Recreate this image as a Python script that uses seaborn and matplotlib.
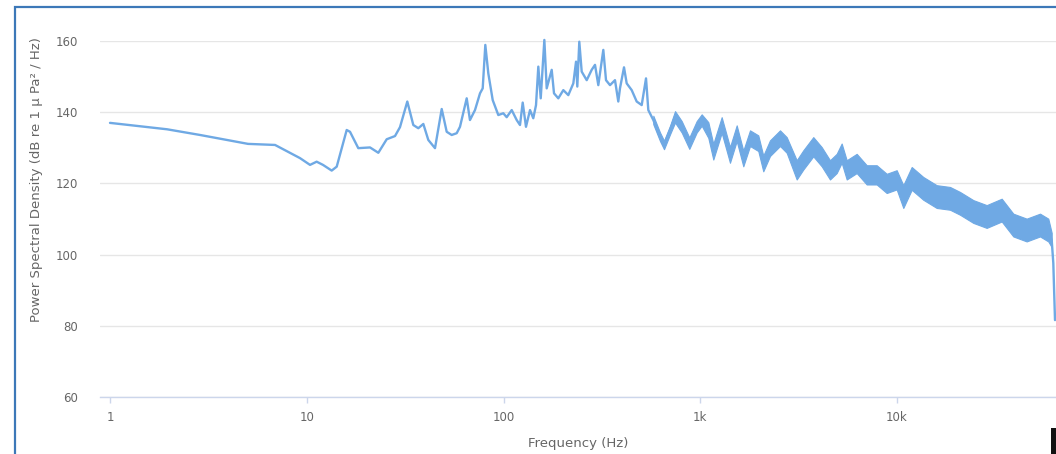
import matplotlib
matplotlib.use("Agg")
import matplotlib.pyplot as plt
import matplotlib.ticker as mticker
from matplotlib.patches import Rectangle
import pandas as pd
import seaborn as sns

# Power spectral density of the recording (frequency in Hz, level in dB re 1 uPa^2/Hz)
freq_hz = [
    1.0, 1.95, 2.87, 5.03, 6.9, 9.24, 10.39, 11.23, 12.09, 13.39, 14.2, 15.96,
    16.59, 18.28, 20.97, 23.11, 25.49, 28.09, 29.78, 32.44, 34.8, 36.9, 39.13,
    41.48, 44.86, 48.52, 51.44, 54.54, 57.82, 60.1, 65.01, 67.54, 71.63, 75.96,
    78.4, 80.83, 83.72, 88.14, 94.1, 99.77, 103.8, 110.1, 116.7, 121.3, 125.2,
    130.1, 136.4, 141.7, 146.3, 150.3, 154.6, 161.3, 165.8, 175.8, 180.6, 189.9,
    201.4, 213.5, 226.4, 233.7, 237.2, 242.8, 249.7, 264.8, 280.7, 291.8, 303.3,
    321.6, 331.9, 347.8, 368.7, 383.2, 390.9, 409.7, 422.8, 448.3, 475.3, 504.0,
    530.1, 544.5, 577.4, 624.5, 654.4, 702.1, 744.4, 804.9, 879.8, 959.2, 1017,
    1099, 1165, 1285, 1416, 1532, 1655, 1790, 1972, 2091, 2262, 2543, 2750, 3092,
    3340, 3754, 4142, 4564, 4936, 5234, 5551, 6239, 7015, 7884, 8864, 9963,
    10765, 11877, 13604, 15910, 18596, 20902, 24431, 28565, 34055, 38996, 45609,
    53316, 58736, 61131, 62294, 63540,
]
psd_db = [
    137.0, 135.2, 133.6, 131.1, 130.8, 127.1, 125.2, 126.1, 125.2, 123.6, 124.7,
    135.0, 134.5, 129.9, 130.1, 128.6, 132.4, 133.3, 135.8, 143.0, 136.4, 135.5,
    136.7, 132.2, 129.9, 140.9, 134.5, 133.6, 134.1, 135.9, 143.9, 137.8, 140.6,
    145.3, 146.7, 158.9, 150.9, 143.4, 139.2, 139.7, 138.6, 140.6, 137.8, 136.4,
    142.7, 135.9, 140.6, 138.3, 142.0, 152.8, 143.9, 160.3, 146.7, 151.9, 145.3,
    143.9, 146.2, 144.8, 148.1, 154.2, 147.2, 159.8, 151.4, 149.0, 151.9, 153.3,
    147.6, 157.5, 149.0, 147.6, 149.0, 143.0, 146.7, 152.6, 148.1, 146.2, 143.0,
    142.0, 149.5, 140.6, 137.8, 133.1, 130.8, 135.0, 138.7, 135.9, 131.3, 135.9,
    137.8, 135.0, 128.9, 136.4, 128.0, 134.1, 127.0, 132.7, 131.3, 125.6, 129.9,
    132.7, 130.8, 123.8, 126.6, 130.3, 127.5, 123.8, 125.6, 128.5, 123.8, 125.6,
    122.4, 122.4, 120.0, 121.0, 116.3, 121.4, 118.6, 116.3, 115.8, 114.4, 112.1,
    110.7, 112.5, 108.3, 106.9, 108.3, 106.9, 104.1, 97.6, 81.6,
]

# Spread of the fine-grained fluctuation above ~500 Hz (lower / upper envelope)
band_hz = [
    577.4, 624.5, 654.4, 702.1, 744.4, 804.9, 879.8, 959.2, 1017, 1099, 1165,
    1285, 1416, 1532, 1655, 1790, 1972, 2091, 2262, 2543, 2750, 3092, 3340,
    3754, 4142, 4564, 4936, 5234, 5551, 6239, 7015, 7884, 8864, 9963, 10765,
    11877, 13604, 15910, 18596, 20902, 24431, 28565, 34055, 38996, 45609, 53316,
    58736, 61131,
]
band_lo_db = [
    136.6, 131.9, 129.6, 133.8, 137.1, 134.3, 129.7, 134.3, 136.2, 132.8, 126.7,
    134.2, 125.8, 131.9, 124.8, 130.5, 129.1, 123.4, 127.7, 130.5, 128.6, 121.1,
    123.9, 127.6, 124.8, 121.1, 122.9, 125.8, 121.1, 122.9, 119.7, 119.7, 117.3,
    118.3, 113.1, 118.2, 115.4, 113.1, 112.6, 111.2, 108.9, 107.5, 109.3, 105.1,
    103.7, 105.1, 103.7, 102.1,
]
band_hi_db = [
    139.0, 134.3, 132.0, 136.2, 140.3, 137.5, 132.9, 137.5, 139.4, 137.2, 131.1,
    138.6, 130.2, 136.3, 129.2, 134.9, 133.5, 127.8, 132.1, 134.9, 133.0, 126.5,
    129.3, 133.0, 130.2, 126.5, 128.3, 131.2, 126.5, 128.3, 125.1, 125.1, 122.7,
    123.7, 119.5, 124.6, 121.8, 119.5, 119.0, 117.6, 115.3, 113.9, 115.7, 111.5,
    110.1, 111.5, 110.1, 106.1,
]

x_ticks = [1, 10, 100, 1000, 10000]
x_tick_labels = ["1", "10", "100", "1k", "10k"]
y_ticks = [60, 80, 100, 120, 140, 160]

LINE = "#6fa9e4"
GRID = "#e6e6e6"
AXIS = "#ccd6eb"
TEXT = "#666666"

sns.set_theme(style="white")
plt.rcParams["font.family"] = ["DejaVu Sans"]

W, H = 1056, 454
fig = plt.figure(figsize=(W / 100, H / 100), dpi=100)
fig.patch.set_facecolor("white")

ax_left, ax_right, ax_top, ax_bottom = 100, 1056, 41, 397
ax = fig.add_axes([ax_left / W, 1 - ax_bottom / H,
                   (ax_right - ax_left) / W, (ax_bottom - ax_top) / H])
ax.set_facecolor("white")

df = pd.DataFrame({"freq": freq_hz, "psd": psd_db})

ax.fill_between(band_hz, band_lo_db, band_hi_db, color=LINE, lw=0.8,
                edgecolor=LINE, zorder=2, clip_on=False)
sns.lineplot(data=df, x="freq", y="psd", ax=ax, color=LINE, lw=1.7,
             estimator=None, sort=False, zorder=3, clip_on=False)

ax.set_xscale("log")
ax.set_xlim(10 ** ((ax_left - 110) / 196.75), 10 ** ((ax_right - 110) / 196.75))
ax.set_ylim(60, 160)

ax.set_xticks(x_ticks)
ax.set_xticklabels(x_tick_labels)
ax.xaxis.set_minor_locator(mticker.NullLocator())
ax.set_yticks(y_ticks)
ax.set_yticklabels([str(v) for v in y_ticks])

ax.grid(axis="y", color=GRID, lw=1)
ax.grid(axis="x", visible=False)
ax.set_axisbelow(True)

for side in ("top", "right", "left"):
    ax.spines[side].set_visible(False)
ax.spines["bottom"].set_color(AXIS)
ax.spines["bottom"].set_linewidth(1)

ax.tick_params(axis="x", length=4, width=1, color=AXIS, pad=6,
               labelsize=8.5, labelcolor=TEXT, direction="out", bottom=True)
ax.tick_params(axis="y", length=0, pad=16, labelsize=8.5, labelcolor=TEXT)

ax.set_xlabel("")
ax.set_ylabel("")
fig.text(578 / W, 1 - 443 / H, "Frequency (Hz)", ha="center", va="center",
         fontsize=9.5, color=TEXT)
fig.text(37 / W, 1 - 180 / H, "Power Spectral Density (dB re 1 \u03bc Pa\u00b2 / Hz)",
         ha="center", va="center", rotation=90, fontsize=9.5, color=TEXT)

# Frame around the chart panel
fig.add_artist(Rectangle((15 / W, -0.1), 1.2, 1 - 7 / H + 0.1,
                         transform=fig.transFigure, fill=False,
                         edgecolor="#3c78b8", lw=1.6))
fig.add_artist(Rectangle((1051 / W, 0), 10 / W, 26 / H,
                         transform=fig.transFigure, color="#111111", lw=0))

fig.savefig("out.png", dpi=100, facecolor="white")
